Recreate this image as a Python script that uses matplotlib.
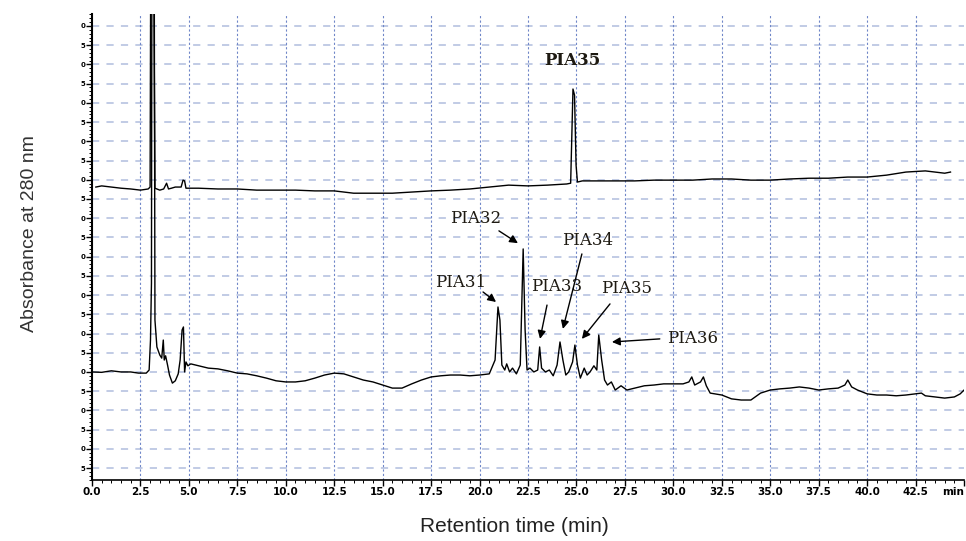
import matplotlib
matplotlib.use("Agg")
from matplotlib import pyplot as plt
from matplotlib.ticker import MultipleLocator

# retention time (min) and absorbance (mAU) - lower chromatogram
t_low = [0.0, 0.5, 1.0, 1.5, 2.0, 2.4, 2.8, 2.95, 3.02, 3.07, 3.1, 3.2, 3.25, 3.35,
         3.5, 3.6, 3.68, 3.73, 3.8, 3.9, 4.0, 4.15, 4.3, 4.45, 4.55, 4.65, 4.72, 4.78,
         4.85, 4.95, 5.1, 5.5, 6.0, 6.5, 7.0, 7.5, 8.0, 8.5, 9.0, 9.5, 10.0, 10.5,
         11.0, 11.5, 12.0, 12.5, 13.0, 13.5, 14.0, 14.5, 15.0, 15.5, 16.0, 16.5, 17.0,
         17.5, 18.0, 18.5, 19.0, 19.5, 20.0, 20.5, 20.8, 20.95, 21.05, 21.15, 21.3,
         21.4, 21.55, 21.7, 21.9, 22.1, 22.25, 22.35, 22.45, 22.6, 22.8, 23.0, 23.1,
         23.2, 23.4, 23.6, 23.8, 24.0, 24.15, 24.3, 24.45, 24.6, 24.8, 24.92, 25.05,
         25.2, 25.4, 25.55, 25.7, 25.9, 26.05, 26.15, 26.3, 26.45, 26.6, 26.8, 27.0,
         27.3, 27.6, 28.0, 28.5, 29.0, 29.5, 30.0, 30.5, 30.8, 30.95, 31.1, 31.4,
         31.55, 31.7, 31.9, 32.5, 33.0, 33.5, 34.0, 34.5, 35.0, 35.5, 36.0, 36.5,
         37.0, 37.5, 38.0, 38.5, 38.85, 39.0, 39.2, 39.5, 40.0, 40.5, 41.0, 41.5,
         42.0, 42.5, 42.8, 43.0, 43.5, 44.0, 44.5, 44.8, 45.0]
a_low = [0.0, -0.1, 0.3, 0.0, 0.0, -0.3, -0.3, 0.5, 8.3, 23.1, 140, 140, 13.5, 6.5,
         4.4, 3.6, 8.3, 3.1, 4.2, 1.8, -0.8, -2.9, -2.3, -0.5, 3.1, 10.9, 11.7, 0.0,
         2.6, 1.6, 2.1, 1.6, 1.0, 0.8, 0.3, -0.3, -0.5, -1.0, -1.6, -2.3, -2.6, -2.6,
         -2.3, -1.6, -0.8, -0.3, -0.5, -1.3, -2.1, -2.6, -3.4, -4.2, -4.2, -3.1, -2.1,
         -1.3, -1.0, -0.8, -0.8, -1.0, -0.8, -0.5, 3.1, 16.9, 13.5, 1.8, 0.5,
         2.1, 0.0, 1.0, -0.5, 1.8, 32.0, 10.9, 0.5, 1.0, 0.0, 0.5, 6.5,
         1.0, 0.0, 0.5, -1.0, 1.8, 7.8, 3.1, -0.8, 0.0, 2.6, 7.0, 1.8,
         -1.6, 1.0, -0.8, 0.0, 1.6, 0.5, 9.6, 3.1, -2.1, -3.4, -2.6, -4.7,
         -3.6, -4.7, -4.2, -3.6, -3.4, -3.1, -3.1, -3.1, -2.6, -1.3, -3.4, -2.6,
         -1.3, -3.6, -5.5, -6.0, -7.0, -7.3, -7.3, -5.5, -4.7, -4.4, -4.2, -3.9,
         -4.2, -4.7, -4.4, -4.2, -3.4, -2.1, -3.9, -4.7, -5.7, -6.0, -6.0, -6.2,
         -6.0, -5.7, -5.5, -6.2, -6.5, -6.8, -6.5, -5.7, -4.7]

# upper chromatogram
t_up = [0.2, 0.5, 1.0, 1.5, 2.0, 2.5, 2.9, 3.0, 3.05, 3.15, 3.25, 3.5, 3.7, 3.85,
        3.95, 4.1, 4.3, 4.6, 4.7, 4.78, 4.85, 5.5, 6.5, 7.5, 8.5, 9.5, 10.5, 11.5,
        12.5, 13.5, 14.5, 15.5, 16.5, 17.5, 18.5, 19.5, 20.5, 21.5, 22.5, 23.5, 24.5,
        24.7, 24.82, 24.9, 24.98, 25.05, 25.3, 26.0, 27.0, 28.0, 29.0, 30.0, 31.0,
        32.0, 33.0, 34.0, 35.0, 36.0, 37.0, 38.0, 39.0, 40.0, 41.0, 42.0, 43.0, 44.0,
        44.3]
a_up = [48.1, 48.4, 48.1, 47.8, 47.6, 47.3, 47.6, 48.1, 140, 140, 47.8, 47.3, 47.6, 49.1,
        47.6, 47.8, 48.1, 48.1, 49.9, 49.7, 47.8, 47.8, 47.6, 47.6, 47.3, 47.3, 47.3, 47.1,
        47.1, 46.5, 46.5, 46.5, 46.8, 47.1, 47.3, 47.6, 48.1, 48.6, 48.4, 48.6, 48.9,
        49.1, 73.6, 72.0, 53.8, 49.4, 49.7, 49.7, 49.7, 49.7, 49.9, 49.9, 49.9,
        50.2, 50.2, 49.9, 49.9, 50.2, 50.4, 50.4, 50.7, 50.7, 51.2, 52.0, 52.3, 51.7,
        52.0]

# peak labels: text position, arrow tail, arrow head
labels = ["PIA31", "PIA32", "PIA33", "PIA34", "PIA35", "PIA36"]
text_xy = [(19.0, 23.4), (19.8, 39.8), (24.0, 22.1), (25.55, 34.1), (27.6, 21.6), (31.0, 8.8)]
tail_xy = [(20.18, 20.8), (21.0, 36.7), (23.48, 17.4), (25.28, 30.7), (26.73, 17.7), (29.3, 8.6)]
head_xy = [(20.85, 18.2), (21.98, 33.5), (23.12, 8.6), (24.3, 11.2), (25.28, 8.6), (26.83, 7.8)]

xticks = [0.0, 2.5, 5.0, 7.5, 10.0, 12.5, 15.0, 17.5, 20.0, 22.5, 25.0, 27.5,
          30.0, 32.5, 35.0, 37.5, 40.0, 42.5, 45.0]
xticklabels = ["0.0", "2.5", "5.0", "7.5", "10.0", "12.5", "15.0", "17.5", "20.0",
               "22.5", "25.0", "27.5", "30.0", "32.5", "35.0", "37.5", "40.0",
               "42.5", "min"]
yticks = list(range(-25, 95, 5))

fig = plt.figure(figsize=(9.66, 5.41), dpi=100)
ax = fig.add_axes([0.0952, 0.1128, 0.9028, 0.8612])

ax.plot(t_low, a_low, color="black", lw=1.0)
ax.plot(t_up, a_up, color="black", lw=1.0)

ax.set_xlim(0, 45)
ax.set_ylim(-28.1, 93.1)

# grid: dashed light rows, dotted blue columns
for y in yticks:
    ax.axhline(y, color="#bcc7e3", lw=1.3, ls=(0, (4, 4)), zorder=0)
for x in xticks[1:-1]:
    ax.axvline(x, color="#6f86c8", lw=0.8, ls=(0, (2, 2)), zorder=0)

ax.set_xticks(xticks)
ax.set_xticklabels(xticklabels, fontsize=7.5, fontweight="bold")
ax.get_xticklabels()[-1].set_horizontalalignment("right")
ax.xaxis.set_minor_locator(MultipleLocator(0.5))
ax.set_yticks(yticks)
ax.set_yticklabels([str(abs(v) % 10) for v in yticks], fontsize=5, fontweight="bold")
ax.yaxis.set_minor_locator(MultipleLocator(1))
ax.tick_params(axis="both", which="major", length=4, width=1, pad=1)
ax.tick_params(axis="both", which="minor", length=2, width=0.7)

for s in ["top", "right"]:
    ax.spines[s].set_visible(False)
ax.spines["left"].set_linewidth(1.5)
ax.spines["bottom"].set_linewidth(1.2)

for lab, txy, a0, a1 in zip(labels, text_xy, tail_xy, head_xy):
    ax.text(txy[0], txy[1], lab, fontsize=12, family="DejaVu Serif",
            color="#1e1a12", ha="center", va="center")
    ax.annotate("", xy=a1, xytext=a0,
                arrowprops=dict(arrowstyle="-|>", color="black", lw=1.0,
                                mutation_scale=12, shrinkA=0, shrinkB=0))

ax.text(24.77, 81.1, "PIA35", fontsize=12, family="DejaVu Serif", fontweight="bold",
        color="#1e1a12", ha="center", va="center")

fig.text(0.031, 0.568, "Absorbance at 280 nm", rotation=90, fontsize=14,
         family="Liberation Sans", color="#333333", ha="center", va="center")
fig.text(0.532, 0.026, "Retention time (min)", fontsize=15,
         family="Liberation Sans", color="#222222", ha="center", va="center")

fig.savefig("out.png", dpi=100)
